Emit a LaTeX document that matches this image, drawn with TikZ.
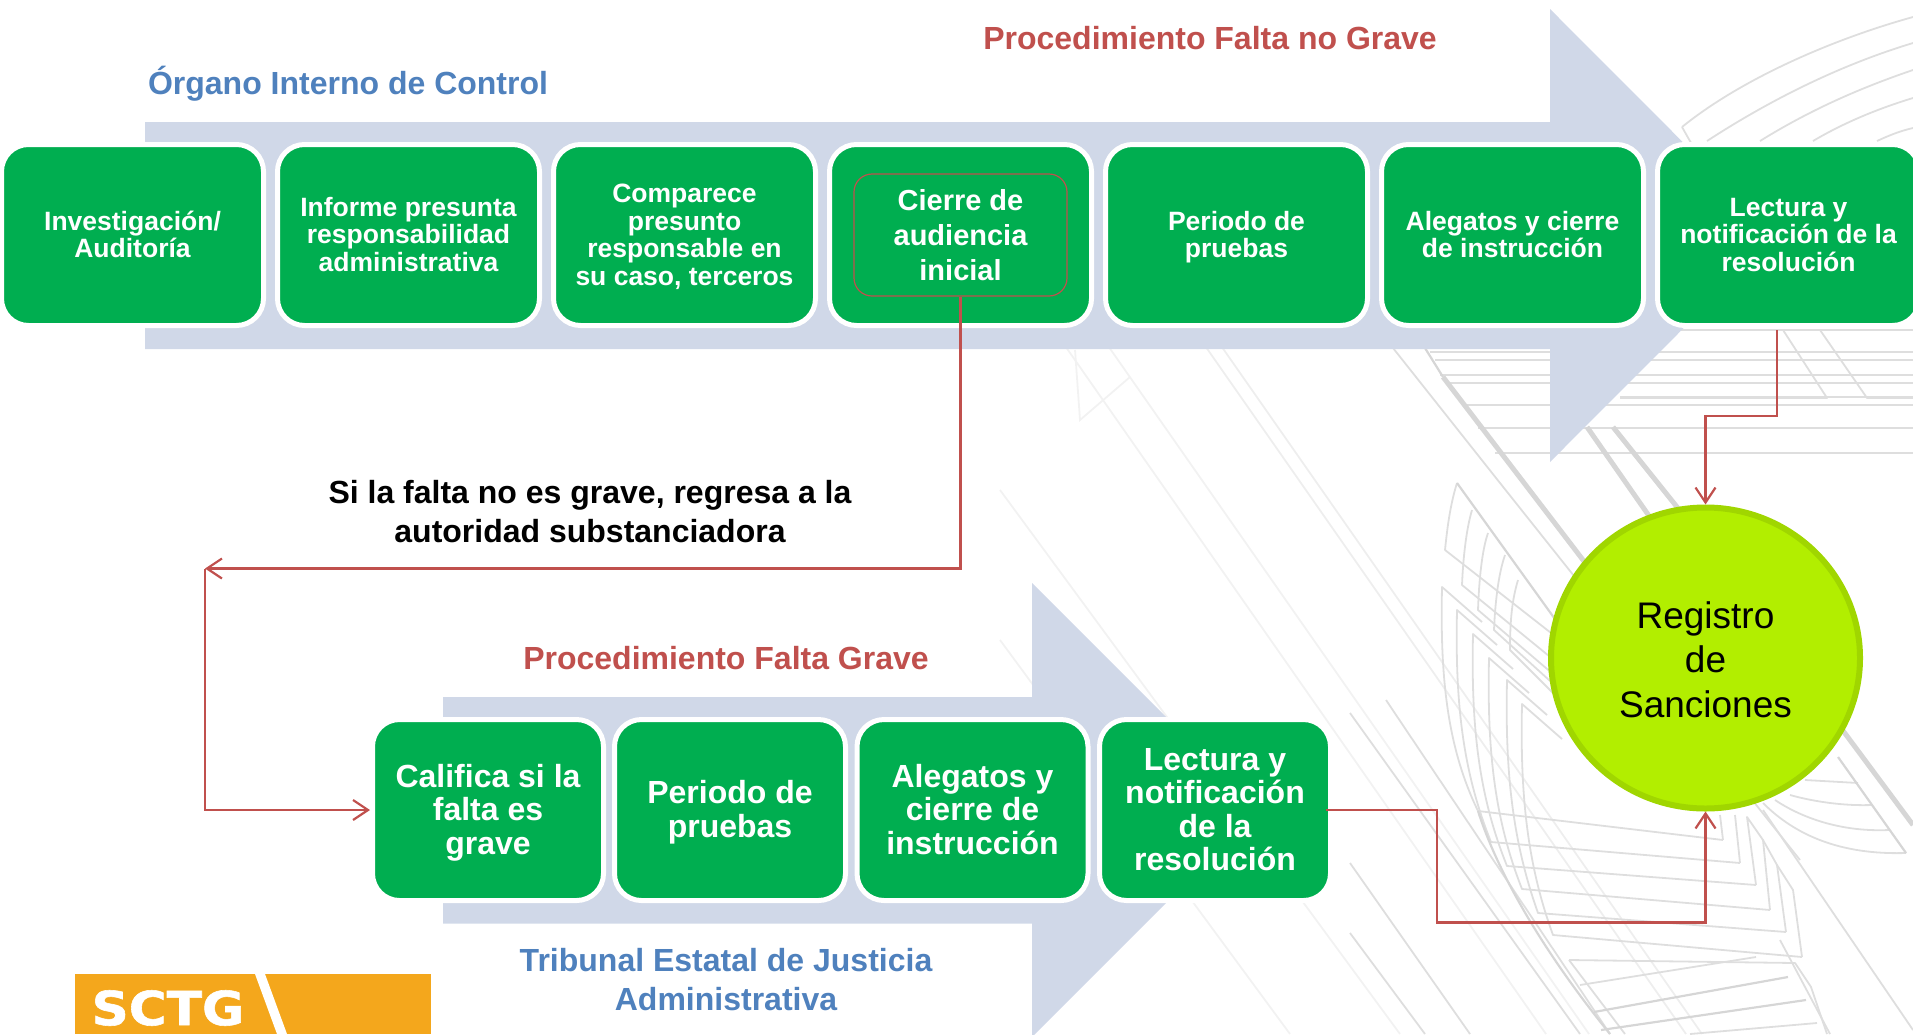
\documentclass[tikz,border=0pt]{standalone}
\usepackage{fontspec}
\setmainfont{Liberation Sans}
\newfontfamily\logofont[FakeStretch=1.1,FakeBold=1.2]{DejaVu Sans}
\usetikzlibrary{arrows.meta,shapes.geometric}
\definecolor{boxgreen}{HTML}{00AE50}
\definecolor{bandblue}{HTML}{D0D8E8}
\definecolor{linkred}{HTML}{C0504D}
\definecolor{headblue}{HTML}{4F81BD}
\definecolor{limefill}{HTML}{B2EE00}
\definecolor{limeedge}{HTML}{A0D600}
\definecolor{logoorange}{HTML}{F4A71C}
\definecolor{bgfaint}{HTML}{F2F2F2}
\definecolor{bgmid}{HTML}{DEDEDE}
\definecolor{bgdark}{HTML}{D6D6D6}
\newcommand\smalltop{\rule{0pt}{24pt}}
\newcommand\largetop{\rule{0pt}{28pt}}
\tikzset{
  stepbox/.style={draw=white,fill=boxgreen,line width=5pt,rounded corners=27pt,inner sep=0pt,
    text=white,align=center,font=\bfseries},
  topbox/.style={stepbox,minimum width=262pt,minimum height=181pt},
  lowbox/.style={stepbox,minimum width=231pt,minimum height=181pt},
  small/.style={font=\bfseries\fontsize{26.5}{27.5}\selectfont,
    execute at end node=\rule[-6.5pt]{0pt}{6.5pt}},
  large/.style={font=\bfseries\fontsize{32}{33.5}\selectfont,
    execute at end node=\rule[-7pt]{0pt}{7pt}},
  conn/.style={draw=linkred,line width=2.5pt},
  tipped/.style={conn,-{Straight Barb[length=15pt,width=20pt,line width=2.2pt]}},
  heading/.style={align=center,font=\bfseries\fontsize{32}{38.5}\selectfont},
  faint/.style={draw=bgfaint,line width=1.8pt},
  midl/.style={draw=bgmid,line width=1.8pt,line join=round},
  darkl/.style={draw=bgdark,line width=2.2pt,line join=round},
  thick band/.style={draw=bgdark,line width=5pt},
  band/.style={fill=bandblue,draw=none}
}
\begin{document}
\begin{tikzpicture}[x=1pt,y=-1pt]
\useasboundingbox (0,0) rectangle (1913,1034);
\clip (0,0) rectangle (1913,1034);
% --- background line art
\foreach \a/\b in {1061/1546,1104/1589} \draw[faint] (\a,340) -- (\b,1034);
\foreach \a/\b in {1201/1686,1217/1702} \draw[midl,draw=bgfaint!80!bgmid] (\a,340) -- (\b,1034);
\draw[faint] (1000,490) -- (1400,1034);
\draw[faint] (1000,640) -- (1290,1034);
\draw[faint] (1075,350) -- (1080,420) -- (1130,377);
\draw[midl] (1386,700) -- (1610,1034);
\draw[midl] (1350,713) -- (1580,1034);
\draw[midl] (1350,863) -- (1470,1034);
\draw[midl] (1350,933) -- (1425,1034);
\draw[midl] (1393,348) -- (1500,483) -- (1800,860);
\draw[midl] (1763,810) -- (1913,1030);
% arcs top right
\draw[midl] (1682,127) .. controls (1740,80) and (1830,40) .. (1913,17);
\draw[midl] (1682,127) -- (1695,150);
\draw[midl] (1707,141) .. controls (1770,100) and (1840,65) .. (1913,43);
\draw[midl] (1760,141) .. controls (1810,110) and (1860,88) .. (1913,70);
\draw[midl] (1813,141) .. controls (1845,122) and (1880,108) .. (1913,98);
\draw[midl] (1877,141) .. controls (1890,135) and (1900,131) .. (1913,128);
% horizontals
\foreach \y/\x in {330/1420,352/1430,360/1435,375/1440,383/1447,397/1620,405/1462,428/1478,453/1495}
  \draw[midl] (\x,\y) -- (1913,\y);
\draw[midl] (1783,330) -- (1827,398) -- (1620,398);
\draw[midl] (1820,330) -- (1867,398) -- (1913,398);
% thick diagonals
\draw[darkl] (1420,340) -- (1443,377);
\draw[thick band] (1443,377) -- (1583,560) -- (1640,640);
\draw[thick band] (1587,427) -- (1647,513) -- (1700,590);
\draw[thick band] (1613,427) -- (1677,507) -- (1913,825);
% upper fan
\draw[midl] (1457,483) .. controls (1450,505) and (1447,530) .. (1445,550) -- (1560,640);
\draw[midl] (1472,510) .. controls (1466,530) and (1463,560) .. (1462,585) -- (1560,665);
\draw[midl] (1488,533) .. controls (1482,550) and (1479,580) .. (1478,610) -- (1560,680);
\draw[midl] (1505,555) .. controls (1498,575) and (1495,605) .. (1494,630) -- (1560,690);
\draw[midl] (1518,580) .. controls (1512,600) and (1510,620) .. (1510,650) -- (1560,700);
\draw[darkl] (1457,483) -- (1570,640);
% chevron cells and rungs
\foreach \ax/\ay/\bx/\by/\cx/\cy in {
  1442/587/1478/811/1723/840,
  1457/610/1491/842/1740/863,
  1473/634/1507/866/1756/885,
  1489/658/1522/889/1770/910,
  1507/680/1538/913/1786/932,
  1522/704/1553/935/1802/957}{
  \draw[midl] (\ax+40,\ay+35) -- (\ax,\ay) .. controls (\ax-2,\ay+90) and (\ax+5,\ay+160) .. (\bx,\by) -- (\cx,\cy);
}
\draw[midl] (1723,840) -- (1720,815);
\draw[midl] (1740,863) -- (1735,815);
\draw[midl] (1756,885) -- (1747,817) -- (1763,840) -- (1770,910);
\draw[midl] (1763,840) -- (1777,865) -- (1786,932);
\draw[midl] (1777,865) -- (1793,890) -- (1802,957);
% lower ladder
\draw[darkl] (1478,811) .. controls (1500,880) and (1550,960) .. (1610,1034);
\draw[midl] (1569,960) -- (1795,963) -- (1811,987) -- (1827,1034);
\draw[midl] (1569,960) -- (1625,1034);
\draw[midl] (1580,985) -- (1756,957);
\draw[darkl] (1594,1012) -- (1788,977);
\draw[darkl] (1601,1030) -- (1806,1000);
\draw[midl] (1690,1034) -- (1817,1023);
\draw[midl] (1780,940) -- (1830,1034);
% right fan
\draw[midl] (1763,803) .. controls (1795,835) and (1840,855) .. (1906,853);
\draw[midl] (1775,800) .. controls (1805,820) and (1845,832) .. (1889,830);
\draw[midl] (1790,795) .. controls (1815,802) and (1845,806) .. (1872,805);
\draw[midl] (1805,780) -- (1858,783);
\draw[darkl] (1838,757) -- (1906,853);
% --- broad arrows
\path[band] (145,122) -- (1550,122) -- (1550,9) -- (1776,235.5) -- (1550,462) -- (1550,349) -- (145,349) -- cycle;
\path[band] (443,697) -- (1032,697) -- (1032,583) -- (1259,810) -- (1032,1037) -- (1032,923.5) -- (443,923.5) -- cycle;
% --- top row
\node[topbox,small] (t1) at (132.5,235) {\smalltop Investigación/\\Auditoría};
\node[topbox,small] (t2) at (408.5,235) {\smalltop Informe presunta\\responsabilidad\\administrativa};
\node[topbox,small] (t3) at (684.5,235) {\smalltop Comparece\\presunto\\responsable en\\su caso, terceros};
\node[topbox,font=\bfseries\fontsize{29}{35}\selectfont] (t4) at (960.5,235) {Cierre de\\audiencia\\inicial};
\node[topbox,small] (t5) at (1236.5,235) {\smalltop Periodo de\\pruebas};
\node[topbox,small] (t6) at (1512.5,235) {\smalltop Alegatos y cierre\\de instrucción};
\node[topbox,small] (t7) at (1788.5,235) {\smalltop Lectura y\\notificación de la\\resolución};
\node[draw=linkred,line width=1.2pt,rounded corners=18pt,minimum width=213pt,minimum height=122pt] (inner) at (960.5,235) {};
% --- bottom row
\node[lowbox,large] (b1) at (488,810) {\largetop Califica si la\\falta es\\grave};
\node[lowbox,large] (b2) at (730,810) {\largetop Periodo de\\pruebas};
\node[lowbox,large] (b3) at (972.5,810) {\largetop Alegatos y\\cierre de\\instrucción};
\node[lowbox,large] (b4) at (1215,810) {\largetop Lectura y\\notificación\\de la\\resolución};
% --- register
\node[ellipse,draw=limeedge,fill=limefill,line width=6pt,minimum width=309pt,minimum height=301pt,inner sep=0pt,
  align=center,font=\fontsize{37}{44.5}\selectfont,text=black] (reg) at (1705.5,658) {\rule{0pt}{30pt}Registro\\de\\Sanciones};
% --- labels
\node[heading,text=headblue] (organo) at (348,84) {Órgano Interno de Control};
\node[heading,text=linkred] (pnograve) at (1210,38) {Procedimiento Falta no Grave};
\node[heading,text=black] (regresa) at (590,511.5) {Si la falta no es grave, regresa a la\\autoridad substanciadora};
\node[heading,text=linkred] (pgrave) at (726,658) {Procedimiento Falta Grave};
\node[heading,text=headblue] (tribunal) at (726,979.5) {Tribunal Estatal de Justicia\\Administrativa};
% --- connectors
\coordinate (c1) at (1777,416);
\draw[tipped] ([yshift=-2pt]c1 |- t7.south) -- (c1) -- (c1 -| reg.north) -- (reg.north);
\coordinate (c2) at (205,568.5);
\draw[tipped] (inner.south) -- (inner.south |- c2) -- (c2);
\draw[tipped] (c2) -- (c2 |- b1.west) -- (b1.west);
\coordinate (c3) at (1437,922.5);
\draw[tipped] ([xshift=-7pt]b4.east) -- (c3 |- b4.east) -- (c3) -- (c3 -| reg.south) -- (reg.south);
% --- logo
\path[fill=logoorange] (75,974) rectangle (431,1034);
\path[fill=white] (255,974) -- (265,974) -- (287,1034) -- (277,1034) -- cycle;
\node[text=white,font=\logofont\bfseries\fontsize{47}{47}\selectfont,inner sep=0pt] (sctg) at (168,1008) {SCTG};
\end{tikzpicture}
\end{document}
